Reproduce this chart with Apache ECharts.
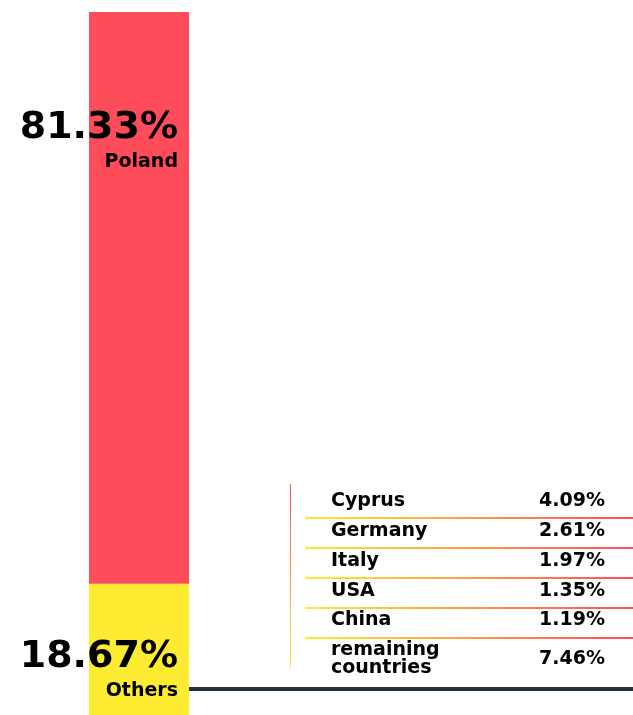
<!DOCTYPE html>
<html>
<head>
<meta charset="utf-8">
<script src="https://cdn.jsdelivr.net/npm/echarts@6/dist/echarts.min.js"></script>
<style>
  html, body { margin: 0; padding: 0; background: #fff; }
  #main { width: 633px; height: 715px; }
</style>
</head>
<body>
<div id="main"></div>
<script>
// share of total (stacked bottom-up)
const barNames = ['Others', 'Poland']
const barValues = [18.67, 81.33]
const barColors = ['#FDEC32', '#FF4C5B']

// breakdown of "Others"
const countries = ['Cyprus', 'Germany', 'Italy', 'USA', 'China', 'remaining\ncountries']
const countryShares = [4.09, 2.61, 1.97, 1.35, 1.19, 7.46]

const font = '"DejaVu Sans", sans-serif'
const pct = v => v.toFixed(2) + '%'

// label offsets inside each stacked segment
const labelPos = [[89, 51], [89, 94]]

const series = barNames.map((name, i) => ({
  name,
  type: 'bar',
  stack: 'total',
  barWidth: 100,
  silent: true,
  itemStyle: { color: barColors[i] },
  data: [barValues[i]],
  label: {
    show: true,
    position: labelPos[i],
    align: 'right',
    formatter: () => '{big|' + pct(barValues[i]) + '}\n{small|' + name + '}',
    rich: {
      big: { fontFamily: font, fontSize: 38, fontWeight: 'bold', color: '#000', align: 'right', lineHeight: 44 },
      small: { fontFamily: font, fontSize: 19, fontWeight: 'bold', color: '#000', align: 'right', lineHeight: 24 }
    }
  }
}))

// table of countries
const rowY = [501, 531, 561, 591, 620, 659]
const sepY = [517, 547, 577, 607, 637]
const hGrad = { type: 'linear', x: 0, y: 0, x2: 1, y2: 0,
  colorStops: [{ offset: 0, color: '#FDEC32' }, { offset: 0.5, color: '#FF9A45' }, { offset: 1, color: '#FF4C5B' }] }
const vGrad = { type: 'linear', x: 0, y: 0, x2: 0, y2: 1,
  colorStops: [{ offset: 0, color: '#FF4C5B' }, { offset: 0.5, color: '#FF9A45' }, { offset: 1, color: '#FDEC32' }] }

const graphic = []
graphic.push({ type: 'rect', shape: { x: 290, y: 484, width: 1, height: 184 }, style: { fill: vGrad } })
sepY.forEach(y => graphic.push({ type: 'rect', shape: { x: 305, y: y, width: 328, height: 2 }, style: { fill: hGrad } }))
countries.forEach((c, i) => {
  graphic.push({ type: 'text', x: 331, y: rowY[i],
    style: { text: c, fontFamily: font, fontSize: 19, fontWeight: 'bold', fill: '#000', textVerticalAlign: 'middle', lineHeight: 18 } })
  graphic.push({ type: 'text', x: 539, y: rowY[i],
    style: { text: pct(countryShares[i]), fontFamily: font, fontSize: 19, fontWeight: 'bold', fill: '#000', textVerticalAlign: 'middle' } })
})
graphic.push({ type: 'rect', shape: { x: 180, y: 687, width: 453, height: 4 }, style: { fill: '#232F3A' } })

const chart = echarts.init(document.getElementById('main'))
chart.setOption({
  animation: false,
  backgroundColor: '#fff',
  grid: { left: 89, top: 12, width: 100, bottom: 0 },
  xAxis: { type: 'category', data: ['share'], show: false },
  yAxis: { type: 'value', min: 0, max: 100, show: false },
  series,
  graphic
})
</script>
</body>
</html>
